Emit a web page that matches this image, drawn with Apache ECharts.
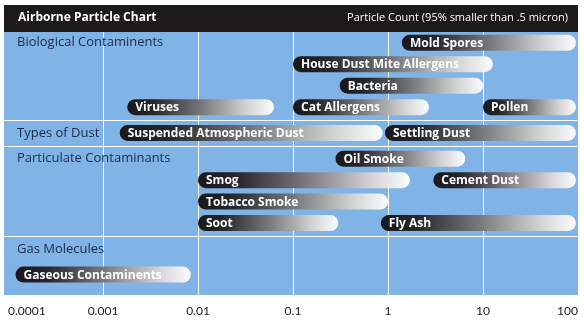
<!DOCTYPE html>
<html>
<head>
<meta charset="utf-8">
<script src="https://cdn.jsdelivr.net/npm/echarts@6/dist/echarts.min.js"></script>
<style>
  html, body { margin: 0; padding: 0; background: #ffffff; }
  #chart { width: 584px; height: 323px; }
</style>
</head>
<body>
<div id="chart"></div>
<script>
// Particle size ranges (microns), plotted on a log scale
const groups = ['Biological Contaminents', 'Types of Dust', 'Particulate Contaminants', 'Gas Molecules'];

const particles = [
  'Mold Spores', 'House Dust Mite Allergens', 'Bacteria', 'Viruses', 'Cat Allergens', 'Pollen',
  'Suspended Atmospheric Dust', 'Settling Dust',
  'Oil Smoke', 'Smog', 'Cement Dust', 'Tobacco Smoke', 'Soot', 'Fly Ash',
  'Gaseous Contaminents'
];
const sizeFrom = [1.4, 0.1, 0.31, 0.0018, 0.1, 10, 0.0015, 0.93, 0.28, 0.01, 3, 0.01, 0.01, 0.84, 0.00012];
const sizeTo   = [95, 12.7, 10, 0.063, 2.7, 95, 0.88, 95, 6.5, 1.7, 95, 1, 0.3, 95, 0.0084];
// which group each particle belongs to, and its row inside that group
const particleGroup = [0, 0, 0, 0, 0, 0, 1, 1, 2, 2, 2, 2, 2, 2, 3];
const particleRow   = [0, 1, 2, 3, 3, 3, 0, 0, 0, 1, 1, 2, 3, 3, 1];

const axisTicks = ['0.0001', '0.001', '0.01', '0.1', '1', '10', '100'];

// ---- row layout (in row units on the hidden y axis) ----
const GROUP_GAP = 0.2;
const groupStart = [];
const groupExtra = [];
let cursor = 0;
groups.forEach((g, gi) => {
  groupStart[gi] = cursor;
  const rows = particleRow.filter((r, j) => particleGroup[j] === gi);
  groupExtra[gi] = rows.includes(0) ? 0 : GROUP_GAP; // header sits on its own row
  cursor += Math.max(...rows) + 1 + groupExtra[gi] + GROUP_GAP;
});
const rowPos = particleRow.map((r, j) => {
  const g = particleGroup[j];
  return groupStart[g] + r + (r > 0 ? groupExtra[g] : 0);
});
const dividerPos = groupStart.slice(1).map(s => s - (1 + GROUP_GAP) / 2);

const SANS = '"Open Sans", "Noto Sans", sans-serif';
const AXIS_FONT = 'Lato, "Open Sans", sans-serif';
const BAR_H = 16;

function pillGradient() {
  return new echarts.graphic.LinearGradient(0, 0, 1, 0, [
    { offset: 0, color: '#18181c' },
    { offset: 0.18, color: '#25252a' },
    { offset: 0.5, color: '#77777b' },
    { offset: 0.82, color: '#d4d4d6' },
    { offset: 1, color: '#fbfcff' }
  ]);
}

const chart = echarts.init(document.getElementById('chart'), null, { renderer: 'canvas' });

chart.setOption({
  animation: false,
  backgroundColor: '#ffffff',
  grid: { left: 8, right: 6, top: 32, bottom: 28 },
  graphic: [
    { type: 'rect', z: -5, shape: { x: 4, y: 32, width: 574, height: 263 }, style: { fill: '#80b3e6' } },
    { type: 'rect', z: 10, shape: { x: 4, y: 5, width: 574, height: 27 }, style: { fill: '#1c1a1b' } },
    { type: 'text', z: 11, x: 18, y: 18,
      style: { text: 'Airborne Particle Chart', fill: '#ffffff', font: 'bold 12px ' + SANS, align: 'left', verticalAlign: 'middle' } },
    { type: 'text', z: 11, x: 568, y: 18,
      style: { text: 'Particle Count (95% smaller than .5 micron)', fill: '#ffffff', font: '11px ' + SANS, align: 'right', verticalAlign: 'middle' } }
  ],
  xAxis: {
    type: 'log',
    logBase: 10,
    min: Number(axisTicks[0]),
    max: Number(axisTicks[axisTicks.length - 1]),
    axisLine: { show: false },
    axisTick: { show: false },
    splitLine: { show: true, showMinLine: false, lineStyle: { color: '#ffffff', width: 1 } },
    axisLabel: {
      margin: 10,
      color: '#222222',
      fontFamily: AXIS_FONT,
      fontSize: 12,
      alignMinLabel: 'left',
      alignMaxLabel: 'right',
      formatter: v => {
        const i = Math.round(Math.log10(v)) - Math.log10(Number(axisTicks[0]));
        return axisTicks[i] !== undefined ? axisTicks[i] : '';
      }
    }
  },
  yAxis: {
    type: 'value',
    inverse: true,
    min: -0.5,
    max: 11.75,
    show: false
  },
  series: [
    {
      // group headers and divider lines
      type: 'custom',
      z: 1,
      encode: { x: 0, y: 1 },
      data: groups.map((g, gi) => [Number(axisTicks[0]), groupStart[gi]]),
      renderItem(params, api) {
        const gi = params.dataIndex;
        const cs = params.coordSys;
        const p = api.coord([api.value(0), api.value(1)]);
        const children = [{
          type: 'text',
          style: { text: groups[gi], x: cs.x + 9, y: p[1], align: 'left', verticalAlign: 'middle',
                   fill: '#1b2a48', font: '13px ' + SANS }
        }];
        if (gi < dividerPos.length) {
          const y = Math.round(api.coord([1, dividerPos[gi]])[1]) + 0.5;
          children.push({
            type: 'line',
            shape: { x1: cs.x - 4, y1: y, x2: cs.x + cs.width, y2: y },
            style: { stroke: '#ffffff', lineWidth: 1 }
          });
        }
        return { type: 'group', children };
      }
    },
    {
      // particle size ranges
      type: 'custom',
      z: 3,
      encode: { x: [0, 1], y: 2 },
      data: particles.map((n, i) => [sizeFrom[i], sizeTo[i], rowPos[i]]),
      renderItem(params, api) {
        const i = params.dataIndex;
        const a = api.coord([api.value(0), api.value(2)]);
        const b = api.coord([api.value(1), api.value(2)]);
        return {
          type: 'group',
          children: [
            {
              type: 'rect',
              shape: { x: a[0], y: a[1] - BAR_H / 2, width: b[0] - a[0], height: BAR_H, r: BAR_H / 2 },
              style: { fill: pillGradient() }
            },
            {
              type: 'text',
              style: { text: particles[i], x: a[0] + 8, y: a[1] + 0.5, align: 'left', verticalAlign: 'middle',
                       fill: '#ffffff', font: 'bold 12px ' + SANS }
            }
          ]
        };
      }
    }
  ]
});
</script>
</body>
</html>
